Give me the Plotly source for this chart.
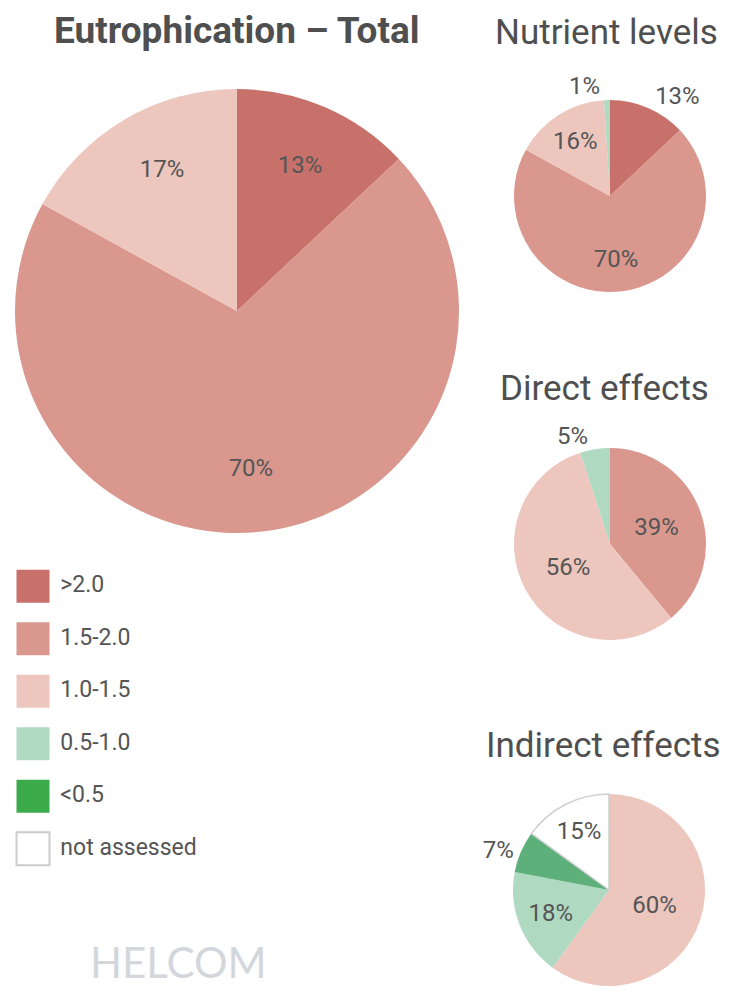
import plotly.graph_objects as go

# ── Data
classes = [">2.0", "1.5-2.0", "1.0-1.5", "0.5-1.0", "<0.5", "not assessed"]

total_classes = [">2.0", "1.5-2.0", "1.0-1.5"]
total_values = [13, 70, 17]

nutrient_classes = [">2.0", "1.5-2.0", "1.0-1.5", "0.5-1.0"]
nutrient_values = [13, 70, 16, 1]

direct_classes = ["1.5-2.0", "1.0-1.5", "0.5-1.0"]
direct_values = [39, 56, 5]

indirect_classes = ["1.0-1.5", "0.5-1.0", "<0.5", "not assessed"]
indirect_values = [60, 18, 7, 15]

# ── Style
LEGEND_COLORS = {
    ">2.0": "#c8716a",
    "1.5-2.0": "#d9978e",
    "1.0-1.5": "#edc6bd",
    "0.5-1.0": "#afd9c1",
    "<0.5": "#3cab4b",
    "not assessed": "#ffffff",
}
PIE_COLORS = dict(LEGEND_COLORS, **{"<0.5": "#5eb07b"})
TEXT = "#555555"
FONT = "Roboto, 'Open Sans', sans-serif"

# page is photographed with the default 8px body margin, so lay out in page
# pixels and shift into figure pixels
OFF = 8
W, H = 731 - OFF, 992 - OFF


def fx(px):
    return (px - OFF) / W


def fy(py):
    return 1 - (py - OFF) / H


def px_domain(cx, cy, r):
    return dict(x=[fx(cx - r), fx(cx + r)], y=[fy(cy + r), fy(cy - r)])


def pie(cls, vals, domain, positions, size, outlined=None, pad=None):
    colors = [PIE_COLORS[c] for c in cls]
    lcol = ["#cfcfcf" if c == outlined else "rgba(0,0,0,0)" for c in cls]
    lw = [1.5 if c == outlined else 0 for c in cls]
    pad = pad or [0] * len(vals)
    # blank lines above (+) or below (-) a label nudge it down / up
    text = []
    for v, p in zip(vals, pad):
        t = f"{v}%"
        if p > 0:
            t = " <br>" * p + t
        elif p < 0:
            t = t + "<br> " * (-p)
        text.append(t)
    return go.Pie(
        labels=cls, values=vals,
        text=text, textinfo="text",
        textposition=positions,
        insidetextorientation="horizontal",
        textfont=dict(size=size, color=TEXT, family=FONT),
        marker=dict(colors=colors, line=dict(color=lcol, width=lw)),
        sort=False, direction="clockwise", rotation=0,
        domain=domain, showlegend=False, hoverinfo="label+percent",
    )


fig = go.Figure()
fig.add_trace(pie(total_classes, total_values, px_domain(237, 311, 222),
                  ["inside"] * 3, 26, pad=[0, 3, -1]))
fig.add_trace(pie(nutrient_classes, nutrient_values, px_domain(610, 196, 96),
                  ["outside", "inside", "inside", "outside"], 24,
                  pad=[0, 1, 0, 0]))
fig.add_trace(pie(direct_classes, direct_values, px_domain(610, 544, 96),
                  ["inside", "inside", "outside"], 24))
fig.add_trace(pie(indirect_classes, indirect_values, px_domain(609, 890, 96),
                  ["inside", "inside", "outside", "inside"], 24,
                  outlined="not assessed"))

# legend swatches as a marker trace on hidden axes (33 px per x unit)
fig.add_trace(go.Scatter(
    x=[0] * len(classes), y=list(range(len(classes))),
    mode="markers+text",
    text=[" " + c for c in classes], textposition="middle right",
    textfont=dict(size=23, color=TEXT, family=FONT),
    marker=dict(symbol="square", size=33,
                color=[LEGEND_COLORS[c] for c in classes],
                line=dict(color=["rgba(0,0,0,0)"] * 5 + ["#cccccc"], width=2)),
    showlegend=False, hoverinfo="skip", cliponaxis=False,
))

titles = [
    ("<b>Eutrophication – Total</b>", 237, 31, 37),
    ("Nutrient levels", 606, 32, 35),
    ("Direct effects", 604, 388, 35),
    ("Indirect effects", 603, 745, 35),
]
annotations = [
    dict(text=t, x=fx(x), y=fy(y), xref="paper", yref="paper",
         xanchor="center", yanchor="middle", showarrow=False,
         font=dict(size=s, color="#4f4f4f", family=FONT))
    for t, x, y, s in titles
]
annotations.append(dict(
    text="HELCOM", x=fx(88), y=fy(962), xref="paper", yref="paper",
    xanchor="left", yanchor="middle", showarrow=False,
    font=dict(size=42, color="#d3d7dc", family="Lato, 'Open Sans', sans-serif"),
))

x0 = (33 - OFF) / 33
fig.update_layout(
    width=W, height=H,
    margin=dict(l=0, r=0, t=0, b=0),
    paper_bgcolor="white", plot_bgcolor="white",
    font=dict(family=FONT, color=TEXT),
    uniformtext=dict(minsize=24, mode="show"),
    xaxis=dict(domain=[0, 300 / W], range=[-x0, 300 / 33 - x0],
               visible=False, fixedrange=True),
    yaxis=dict(domain=[fy(875), fy(560)], range=[5.5, -0.5],
               visible=False, fixedrange=True),
    annotations=annotations,
)

fig.write_html("out.html")
